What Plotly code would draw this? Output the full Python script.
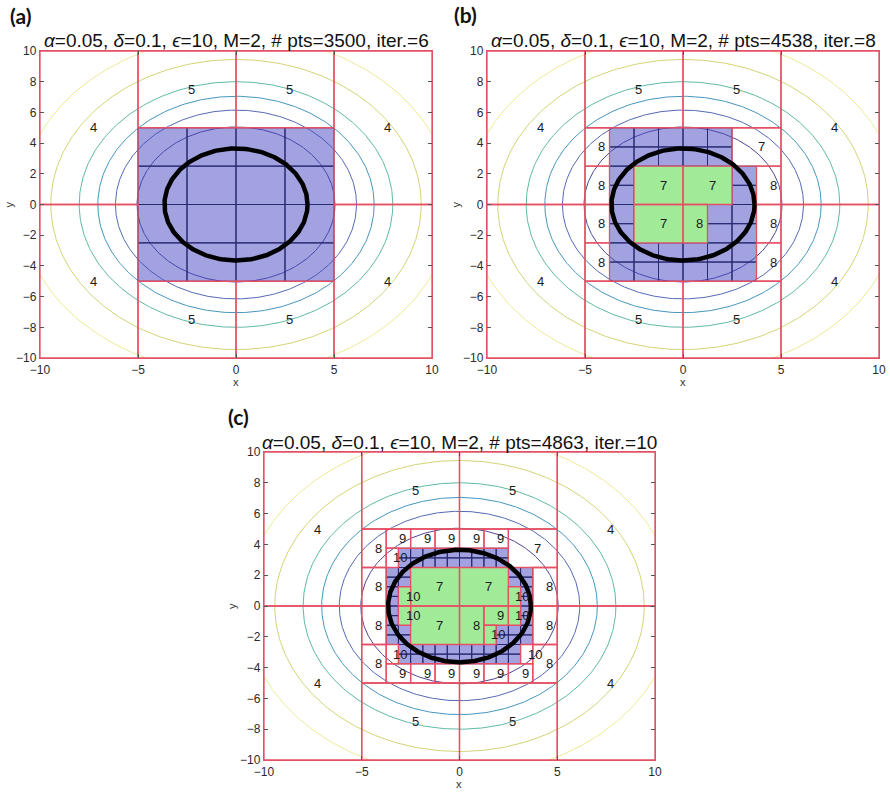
import numpy as np
import plotly.graph_objects as go

FIG_W, FIG_H = 890, 799

# ---------------- data ----------------
TITLES = [
    "<i>α</i>=0.05, <i>δ</i>=0.1, <i>ϵ</i>=10, M=2, # pts=3500, iter.=6",
    "<i>α</i>=0.05, <i>δ</i>=0.1, <i>ϵ</i>=10, M=2, # pts=4538, iter.=8",
    "<i>α</i>=0.05, <i>δ</i>=0.1, <i>ϵ</i>=10, M=2, # pts=4863, iter.=10",
]
PANEL_TAGS = ["(a)", "(b)", "(c)"]

X_TICKS = [-10, -5, 0, 5, 10]
Y_TICKS = [-10, -8, -6, -4, -2, 0, 2, 4, 6, 8, 10]

# level-set radii of the background field and their line colours
CONTOUR_RADII = [11.0, 9.45, 8.0, 7.05, 6.15, 5.05]
CONTOUR_COLORS = ["rgb(238,234,150)", "rgb(212,212,118)", "rgb(95,185,165)",
                  "rgb(70,150,190)", "rgb(85,105,180)", "rgb(80,70,150)"]
TARGET_RADIUS = 3.65   # thick black boundary

# coarse cells shared by all three panels: (x0, x1, y0, y1, label)
COARSE_CELLS = [
    (-10, -5, 0, 10, "4"), (-10, -5, -10, 0, "4"),
    (5, 10, 0, 10, "4"), (5, 10, -10, 0, "4"),
    (-5, 0, 5, 10, "5"), (0, 5, 5, 10, "5"),
    (-5, 0, -10, -5, "5"), (0, 5, -10, -5, "5"),
]

# panel (a)
A_WHITE = []
A_GREEN = []
A_BLUE_REGIONS = [(-5, 5, -5, 5)]
A_BLUE_STEP = 2.5

# panel (b)
B_WHITE = [
    (-5, -3.75, 2.5, 5, "8"), (-5, -3.75, 0, 2.5, "8"),
    (-5, -3.75, -2.5, 0, "8"), (-5, -3.75, -5, -2.5, "8"),
    (3.75, 5, 0, 2.5, "8"), (3.75, 5, -2.5, 0, "8"), (3.75, 5, -5, -2.5, "8"),
    (2.5, 5, 2.5, 5, "7"),
]
B_GREEN = [
    (-2.5, 0, 0, 2.5, "7"), (0, 2.5, 0, 2.5, "7"),
    (-2.5, 0, -2.5, 0, "7"), (0, 1.25, -2.5, 0, "8"),
]
B_BLUE_REGIONS = [(-3.75, 2.5, 2.5, 5), (-3.75, -2.5, -2.5, 2.5),
                  (2.5, 3.75, -2.5, 2.5), (1.25, 2.5, -2.5, 0),
                  (-3.75, 3.75, -5, -2.5)]
B_BLUE_STEP = 1.25

# panel (c)
C_WHITE = [
    (-5, -3.75, 2.5, 5, "8"), (-5, -3.75, 0, 2.5, "8"),
    (-5, -3.75, -2.5, 0, "8"), (-5, -3.75, -5, -2.5, "8"),
    (3.75, 5, 0, 2.5, "8"), (3.75, 5, -2.5, 0, "8"), (3.75, 5, -5, -2.5, "8"),
    (2.5, 5, 2.5, 5, "7"),
    (-3.75, -2.5, 3.75, 5, "9"), (-2.5, -1.25, 3.75, 5, "9"),
    (-1.25, 0, 3.75, 5, "9"), (0, 1.25, 3.75, 5, "9"), (1.25, 2.5, 3.75, 5, "9"),
    (-3.75, -2.5, -5, -3.75, "9"), (-2.5, -1.25, -5, -3.75, "9"),
    (-1.25, 0, -5, -3.75, "9"), (0, 1.25, -5, -3.75, "9"),
    (1.25, 2.5, -5, -3.75, "9"), (2.5, 3.75, -5, -3.75, "9"),
    (-3.75, -3.125, 2.5, 3.75, "10"), (-3.75, -3.125, -3.75, -2.5, "10"),
    (3.125, 3.75, -3.75, -2.5, "10"),
]
C_GREEN = [
    (-2.5, 0, 0, 2.5, "7"), (0, 2.5, 0, 2.5, "7"), (-2.5, 0, -2.5, 0, "7"),
    (0, 1.25, -2.5, 0, "8"), (1.25, 2.5, -1.25, 0, "9"),
    (-3.125, -2.5, 0, 1.25, "10"), (-3.125, -2.5, -1.25, 0, "10"),
    (2.5, 3.125, 0, 1.25, "10"), (2.5, 3.125, -1.25, 0, "10"),
    (1.25, 1.875, -2.5, -1.25, "10"),
]
C_BLUE_REGIONS = [(-3.125, 2.5, 2.5, 3.75), (-3.75, -3.125, -2.5, 2.5),
                  (-3.125, -2.5, 1.25, 2.5), (-3.125, -2.5, -2.5, -1.25),
                  (2.5, 3.75, 1.25, 2.5), (3.125, 3.75, -1.25, 1.25),
                  (2.5, 3.75, -2.5, -1.25), (1.875, 2.5, -2.5, -1.25),
                  (-3.125, 3.125, -3.75, -2.5)]
C_BLUE_STEP = 0.625

# ---------------- styling ----------------
RED = "rgb(228,80,100)"
NAVY = "rgb(40,40,115)"
BLUE_FILL = "rgba(70,70,195,0.50)"
GREEN_FILL = "rgb(160,234,152)"
TEXT_FONT = "Liberation Sans, Arial, sans-serif"

# pixel boxes of the three plot areas: (left, right, top, bottom)
BOXES = [(40, 432, 51, 358), (487, 879, 51, 358), (264, 655, 452, 760)]


def px(x):
    return x / FIG_W


def py(y):
    return 1 - y / FIG_H


def rect_path(cells):
    xs, ys = [], []
    for c in cells:
        x0, x1, y0, y1 = c[:4]
        xs += [x0, x1, x1, x0, x0, None]
        ys += [y0, y0, y1, y1, y0, None]
    return xs, ys


def split_regions(regions, step):
    out = []
    for x0, x1, y0, y1 in regions:
        nx = int(round((x1 - x0) / step))
        ny = int(round((y1 - y0) / step))
        for i in range(nx):
            for j in range(ny):
                out.append((x0 + i * step, x0 + (i + 1) * step,
                            y0 + j * step, y0 + (j + 1) * step))
    return out


fig = go.Figure()
annotations = []

panels = [
    (COARSE_CELLS + A_WHITE, A_GREEN, split_regions(A_BLUE_REGIONS, A_BLUE_STEP)),
    (COARSE_CELLS + B_WHITE, B_GREEN, split_regions(B_BLUE_REGIONS, B_BLUE_STEP)),
    (COARSE_CELLS + C_WHITE, C_GREEN, split_regions(C_BLUE_REGIONS, C_BLUE_STEP)),
]

theta = np.linspace(0, 2 * np.pi, 361)

for k, (white, green, blue) in enumerate(panels):
    xa = "x" if k == 0 else f"x{k + 1}"
    ya = "y" if k == 0 else f"y{k + 1}"

    # background level sets
    for r, col in zip(CONTOUR_RADII, CONTOUR_COLORS):
        fig.add_trace(go.Scatter(x=r * np.cos(theta), y=r * np.sin(theta),
                                 mode="lines", line=dict(color=col, width=1),
                                 hoverinfo="skip", showlegend=False,
                                 xaxis=xa, yaxis=ya))

    # active (refined) cells
    bx, by = rect_path(blue)
    fig.add_trace(go.Scatter(x=bx, y=by, mode="lines", fill="toself",
                             fillcolor=BLUE_FILL, line=dict(color=NAVY, width=1),
                             hoverinfo="skip", showlegend=False,
                             xaxis=xa, yaxis=ya))

    # accepted cells inside the set
    if green:
        gx, gy = rect_path(green)
        fig.add_trace(go.Scatter(x=gx, y=gy, mode="lines", fill="toself",
                                 fillcolor=GREEN_FILL, line=dict(width=0),
                                 hoverinfo="skip", showlegend=False,
                                 xaxis=xa, yaxis=ya))

    # outlines of the labelled cells
    labelled = white + green
    rx, ry = rect_path(labelled)
    fig.add_trace(go.Scatter(x=rx, y=ry, mode="lines",
                             line=dict(color=RED, width=1.3),
                             hoverinfo="skip", showlegend=False,
                             xaxis=xa, yaxis=ya))

    # target boundary
    fig.add_trace(go.Scatter(x=TARGET_RADIUS * np.cos(theta),
                             y=TARGET_RADIUS * np.sin(theta),
                             mode="lines", line=dict(color="black", width=4.5),
                             hoverinfo="skip", showlegend=False,
                             xaxis=xa, yaxis=ya))

    # iteration labels, left-aligned at each cell centre
    for c in labelled:
        annotations.append(dict(text=c[4], x=(c[0] + c[1]) / 2,
                                y=(c[2] + c[3]) / 2, xref=xa, yref=ya,
                                showarrow=False, xanchor="left",
                                yanchor="middle", borderpad=0,
                                font=dict(family=TEXT_FONT, size=13,
                                          color="#1a1a1a")))

axis_common = dict(range=[-10, 10], showgrid=False, zeroline=False,
                   automargin=False,
                   ticks="inside", ticklen=4, tickcolor="#555", tickwidth=1,
                   showline=True, linecolor=RED, linewidth=1.3, mirror="ticks",
                   tickfont=dict(family=TEXT_FONT, size=12, color="#2a2a2a"))

layout_axes = {}
for k, (l, r, t, b) in enumerate(BOXES):
    sx = "xaxis" if k == 0 else f"xaxis{k + 1}"
    sy = "yaxis" if k == 0 else f"yaxis{k + 1}"
    xa = "x" if k == 0 else f"x{k + 1}"
    ya = "y" if k == 0 else f"y{k + 1}"
    layout_axes[sx] = dict(axis_common, domain=[px(l), px(r)], anchor=ya,
                           tickvals=X_TICKS)
    layout_axes[sy] = dict(axis_common, domain=[py(b), py(t)], anchor=xa,
                           tickvals=Y_TICKS)

for k, (l, r, t, b) in enumerate(BOXES):
    annotations.append(dict(text=TITLES[k], x=px((l + r) / 2), y=py(t - 10),
                            xref="paper", yref="paper", showarrow=False,
                            xanchor="center", yanchor="middle",
                            font=dict(family=TEXT_FONT, size=19, color="#111")))
    annotations.append(dict(text="x", x=px((l + r) / 2), y=py(b + 24),
                            xref="paper", yref="paper", showarrow=False,
                            xanchor="center", yanchor="middle",
                            font=dict(family=TEXT_FONT, size=11, color="#333")))
    annotations.append(dict(text="y", x=px(l - 32), y=py((t + b) / 2),
                            xref="paper", yref="paper", showarrow=False,
                            textangle=-90, xanchor="center", yanchor="middle",
                            font=dict(family=TEXT_FONT, size=11, color="#333")))

TAG_POS = [(20, 15), (465, 14), (238, 416)]
for tag, (tx, ty) in zip(PANEL_TAGS, TAG_POS):
    annotations.append(dict(text=f"<b>{tag}</b>", x=px(tx), y=py(ty),
                            xref="paper", yref="paper", showarrow=False,
                            xanchor="center", yanchor="middle",
                            font=dict(family="Lato, Open Sans, sans-serif",
                                      size=21, color="#111")))

fig.update_layout(width=FIG_W, height=FIG_H, margin=dict(l=0, r=0, t=0, b=0),
                  paper_bgcolor="white", plot_bgcolor="white",
                  annotations=annotations, **layout_axes)

fig.write_html("out.html")
